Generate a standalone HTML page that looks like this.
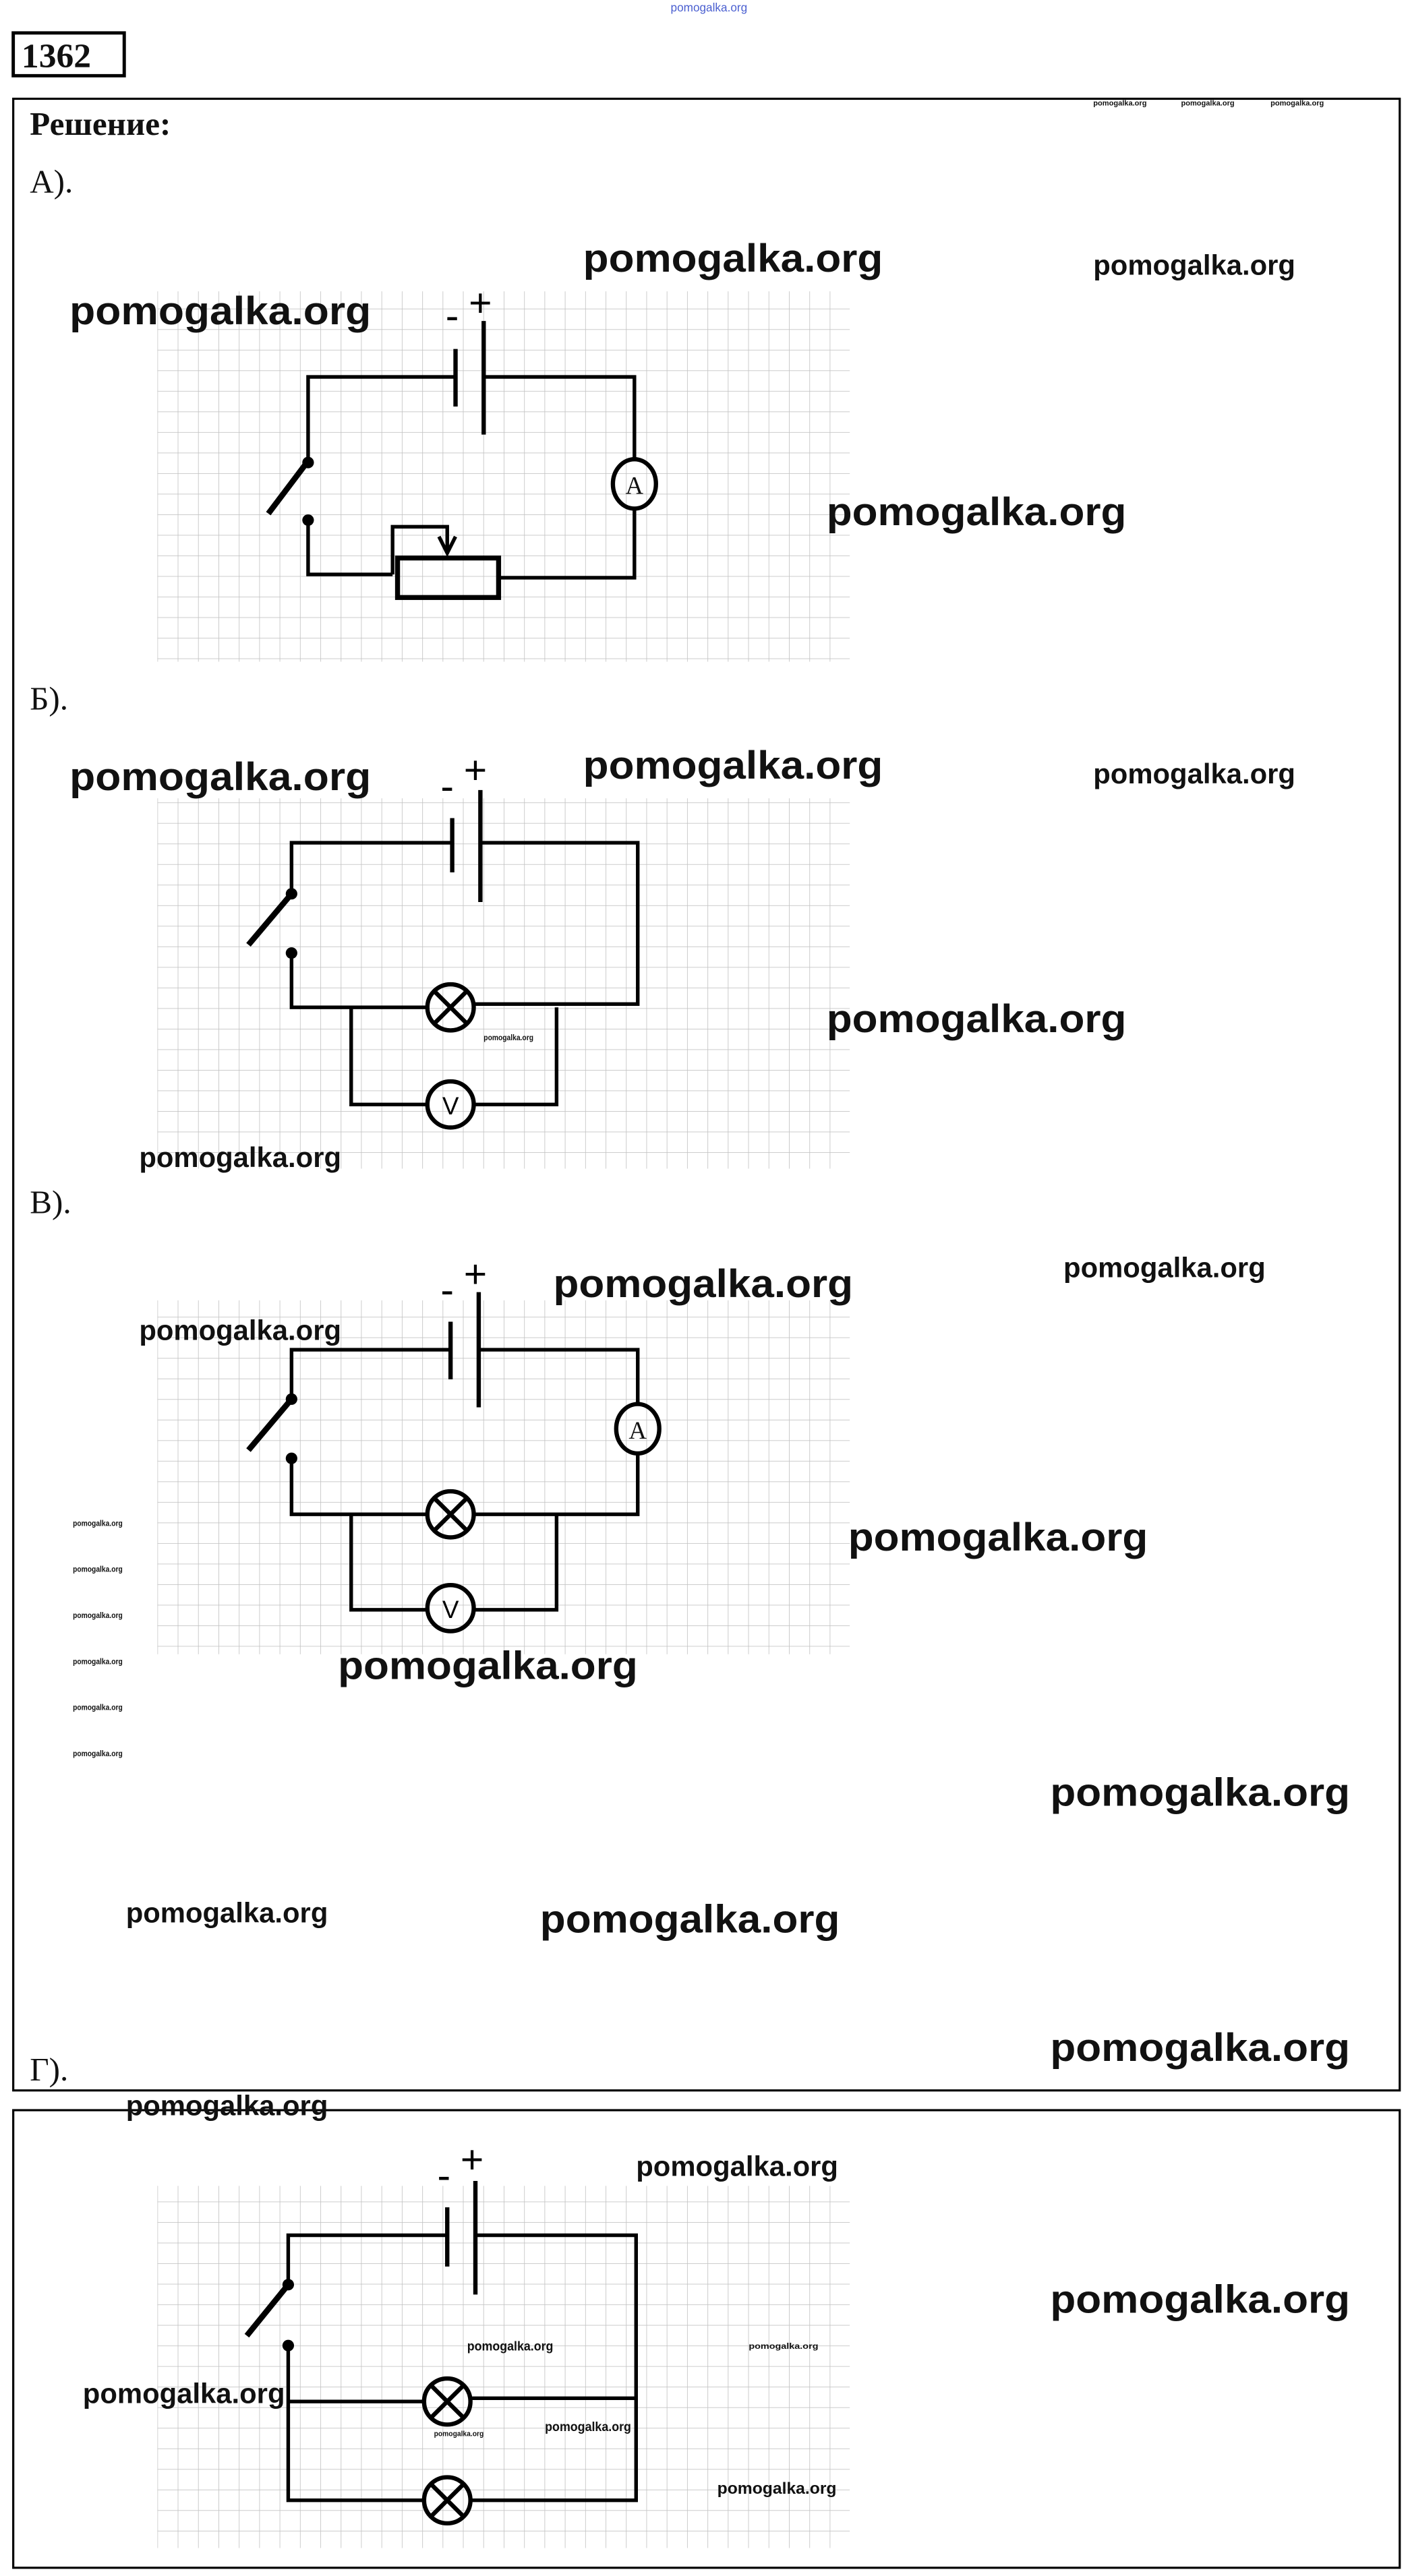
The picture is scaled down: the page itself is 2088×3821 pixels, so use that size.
<!DOCTYPE html>
<html><head><meta charset="utf-8"><style>
html,body{margin:0;padding:0;background:#fff;}
svg{display:block;}
.wm{font-family:"Liberation Sans",sans-serif;font-weight:bold;fill:#111;}
.ser{font-family:"Liberation Serif",serif;fill:#111;}
.w{stroke:#000;stroke-width:2.2;fill:none;}
</style></head><body>
<svg width="2088" height="3821" viewBox="0 0 850 1565" preserveAspectRatio="none" xmlns="http://www.w3.org/2000/svg">
<defs>
<pattern id="g" x="95" y="0" width="12.3" height="12.5" patternUnits="userSpaceOnUse">
<path d="M0 0V12.5M0 0H12.3" stroke="#c4c4c4" stroke-width="0.7" fill="none"/>
</pattern>
</defs>
<rect width="850" height="1565" fill="#fff"/>
<text x="428" y="7" font-size="7" fill="#4a5fd0" text-anchor="middle" font-family="Liberation Sans,sans-serif">pomogalka.org</text>
<rect x="8" y="20" width="67" height="26" fill="none" stroke="#000" stroke-width="2"/>
<text x="13" y="41" class="ser" font-size="21" font-weight="bold">1362</text>
<rect x="8" y="60" width="837" height="1210" fill="none" stroke="#000" stroke-width="1.3"/>
<rect x="8" y="1282" width="837" height="278" fill="none" stroke="#000" stroke-width="1.3"/>
<text x="18" y="82" class="ser" font-size="20" font-weight="bold">Решение:</text>
<text x="18" y="117" class="ser" font-size="20">А).</text>
<text x="18" y="431" class="ser" font-size="20">Б).</text>
<text x="18" y="737" class="ser" font-size="20">В).</text>
<text x="18" y="1264" class="ser" font-size="20">Г).</text>
<g font-size="4.5" class="wm" font-weight="normal"><text x="660" y="64">pomogalka.org</text><text x="713" y="64">pomogalka.org</text><text x="767" y="64">pomogalka.org</text></g>

<!-- grids -->
<rect x="95" y="177" width="418" height="225" fill="url(#g)"/>
<rect x="95" y="485" width="418" height="225" fill="url(#g)"/>
<rect x="95" y="790" width="418" height="215" fill="url(#g)"/>
<rect x="95" y="1328" width="418" height="220" fill="url(#g)"/>

<!-- Circuit A -->
<g class="w">
<path d="M275 229H186V280M292 229H383V279M383 309V351H301M186 316V349H237M237 349V320H270V334"/>
<path d="M275 212V247M292 195V264" stroke-width="2.6"/>
<path d="M186 280L162 312" stroke-width="3.5"/>
<rect x="240" y="339" width="61" height="24" stroke-width="3"/>
<path d="M265 326L270 336L275 326"/>
<ellipse cx="383" cy="294" rx="13" ry="15" stroke-width="2.6"/>
</g>
<circle cx="186" cy="281" r="3.5"/><circle cx="186" cy="316" r="3.5"/>
<text x="383" y="300" class="ser" font-size="15" text-anchor="middle">A</text>
<text x="269" y="200" font-size="24" font-family="Liberation Sans,sans-serif">-</text>
<text x="283" y="192" font-size="24" font-family="Liberation Sans,sans-serif">+</text>

<!-- Circuit B -->
<g class="w">
<path d="M273 512H176V543M290 512H385V610H286M176 579V612H258M212 612V671H258M286 671H336V612"/>
<path d="M273 497V530M290 480V548" stroke-width="2.6"/>
<path d="M176 543L150 574" stroke-width="3.5"/>
<circle cx="272" cy="612" r="14" stroke-width="2.6"/>
<path d="M262 602L282 622M282 602L262 622" stroke-width="2.6"/>
<circle cx="272" cy="671" r="14" stroke-width="2.6"/>
</g>
<circle cx="176" cy="543" r="3.5"/><circle cx="176" cy="579" r="3.5"/>
<text x="272" y="677" font-size="15" text-anchor="middle" font-family="Liberation Sans,sans-serif">V</text>
<text x="266" y="486" font-size="24" font-family="Liberation Sans,sans-serif">-</text>
<text x="280" y="476" font-size="24" font-family="Liberation Sans,sans-serif">+</text>

<!-- Circuit V -->
<g class="w">
<path d="M272 820H176V850M289 820H385V853M385 883V920H286M176 886V920H258M212 920V978H258M286 978H336V920"/>
<path d="M272 803V838M289 785V855" stroke-width="2.6"/>
<path d="M176 850L150 881" stroke-width="3.5"/>
<circle cx="272" cy="920" r="14" stroke-width="2.6"/>
<path d="M262 910L282 930M282 910L262 930" stroke-width="2.6"/>
<circle cx="272" cy="977" r="14" stroke-width="2.6"/>
<ellipse cx="385" cy="868" rx="13" ry="15" stroke-width="2.6"/>
</g>
<circle cx="176" cy="850" r="3.5"/><circle cx="176" cy="886" r="3.5"/>
<text x="272" y="983" font-size="15" text-anchor="middle" font-family="Liberation Sans,sans-serif">V</text>
<text x="385" y="874" class="ser" font-size="15" text-anchor="middle">A</text>
<text x="266" y="792" font-size="24" font-family="Liberation Sans,sans-serif">-</text>
<text x="280" y="782" font-size="24" font-family="Liberation Sans,sans-serif">+</text>

<!-- Circuit G -->
<g class="w">
<path d="M270 1358H174V1388M287 1358H384V1519H285M174 1425V1519H255M174 1459H255M285 1457H384"/>
<path d="M270 1341V1377M287 1325V1394" stroke-width="2.6"/>
<path d="M174 1388L149 1419" stroke-width="3.5"/>
<circle cx="270" cy="1459" r="14" stroke-width="2.6"/>
<path d="M260 1449L280 1469M280 1449L260 1469" stroke-width="2.6"/>
<circle cx="270" cy="1519" r="14" stroke-width="2.6"/>
<path d="M260 1509L280 1529M280 1509L260 1529" stroke-width="2.6"/>
</g>
<circle cx="174" cy="1388" r="3.5"/><circle cx="174" cy="1425" r="3.5"/>
<text x="264" y="1330" font-size="24" font-family="Liberation Sans,sans-serif">-</text>
<text x="278" y="1320" font-size="24" font-family="Liberation Sans,sans-serif">+</text>

<!-- watermarks -->
<g class="wm">
<text x="352" y="165" font-size="24" textLength="181" lengthAdjust="spacingAndGlyphs">pomogalka.org</text>
<text x="660" y="167" font-size="17" textLength="122" lengthAdjust="spacingAndGlyphs">pomogalka.org</text>
<text x="42" y="197" font-size="24" textLength="182" lengthAdjust="spacingAndGlyphs">pomogalka.org</text>
<text x="499" y="319" font-size="24" textLength="181" lengthAdjust="spacingAndGlyphs">pomogalka.org</text>
<text x="42" y="480" font-size="24" textLength="182" lengthAdjust="spacingAndGlyphs">pomogalka.org</text>
<text x="352" y="473" font-size="24" textLength="181" lengthAdjust="spacingAndGlyphs">pomogalka.org</text>
<text x="660" y="476" font-size="17" textLength="122" lengthAdjust="spacingAndGlyphs">pomogalka.org</text>
<text x="499" y="627" font-size="24" textLength="181" lengthAdjust="spacingAndGlyphs">pomogalka.org</text>
<text x="84" y="709" font-size="17" textLength="122" lengthAdjust="spacingAndGlyphs">pomogalka.org</text>
<text x="292" y="632" font-size="5" textLength="30" lengthAdjust="spacingAndGlyphs">pomogalka.org</text>
<text x="334" y="788" font-size="24" textLength="181" lengthAdjust="spacingAndGlyphs">pomogalka.org</text>
<text x="642" y="776" font-size="17" textLength="122" lengthAdjust="spacingAndGlyphs">pomogalka.org</text>
<text x="84" y="814" font-size="17" textLength="122" lengthAdjust="spacingAndGlyphs">pomogalka.org</text>
<text x="512" y="942" font-size="24" textLength="181" lengthAdjust="spacingAndGlyphs">pomogalka.org</text>
<text x="204" y="1020" font-size="24" textLength="181" lengthAdjust="spacingAndGlyphs">pomogalka.org</text>
<text x="634" y="1097" font-size="24" textLength="181" lengthAdjust="spacingAndGlyphs">pomogalka.org</text>
<text x="76" y="1168" font-size="17" textLength="122" lengthAdjust="spacingAndGlyphs">pomogalka.org</text>
<text x="326" y="1174" font-size="24" textLength="181" lengthAdjust="spacingAndGlyphs">pomogalka.org</text>
<text x="634" y="1252" font-size="24" textLength="181" lengthAdjust="spacingAndGlyphs">pomogalka.org</text>
<text x="76" y="1285" font-size="17" textLength="122" lengthAdjust="spacingAndGlyphs">pomogalka.org</text>
<text x="384" y="1322" font-size="17" textLength="122" lengthAdjust="spacingAndGlyphs">pomogalka.org</text>
<text x="634" y="1405" font-size="24" textLength="181" lengthAdjust="spacingAndGlyphs">pomogalka.org</text>
<text x="50" y="1460" font-size="17" textLength="122" lengthAdjust="spacingAndGlyphs">pomogalka.org</text>
<text x="282" y="1428" font-size="8" textLength="52" lengthAdjust="spacingAndGlyphs">pomogalka.org</text>
<text x="452" y="1427" font-size="5" textLength="42" lengthAdjust="spacingAndGlyphs">pomogalka.org</text>
<text x="262" y="1480" font-size="4.5" textLength="30" lengthAdjust="spacingAndGlyphs">pomogalka.org</text>
<text x="329" y="1477" font-size="8" textLength="52" lengthAdjust="spacingAndGlyphs">pomogalka.org</text>
<text x="433" y="1515" font-size="10" textLength="72" lengthAdjust="spacingAndGlyphs">pomogalka.org</text>
</g>
<g class="wm" font-size="5">
<text x="44" y="927" textLength="30" lengthAdjust="spacingAndGlyphs">pomogalka.org</text>
<text x="44" y="955" textLength="30" lengthAdjust="spacingAndGlyphs">pomogalka.org</text>
<text x="44" y="983" textLength="30" lengthAdjust="spacingAndGlyphs">pomogalka.org</text>
<text x="44" y="1011" textLength="30" lengthAdjust="spacingAndGlyphs">pomogalka.org</text>
<text x="44" y="1039" textLength="30" lengthAdjust="spacingAndGlyphs">pomogalka.org</text>
<text x="44" y="1067" textLength="30" lengthAdjust="spacingAndGlyphs">pomogalka.org</text>
</g>
</svg>
</body></html>
